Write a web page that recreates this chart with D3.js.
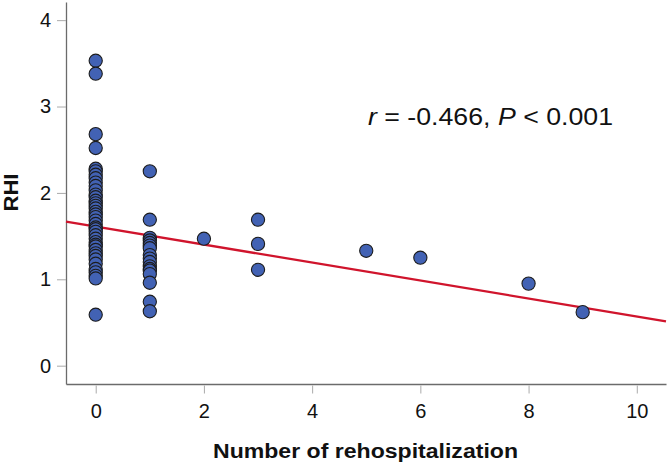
<!DOCTYPE html>
<html>
<head>
<meta charset="utf-8">
<script src="https://cdn.jsdelivr.net/npm/d3@7"></script>
<style>
  html, body { margin: 0; padding: 0; background: #fff; }
  text { font-family: Arial, "Liberation Sans", Helvetica, sans-serif; }
</style>
</head>
<body>
<div id="chart"></div>
<script>
// Number of rehospitalization (x) and RHI (y) for each patient
const rehospX = [
  0,0,0,0,0,0,0,0,0,0,0,0,0,0,0,0,0,0,0,0,
  0,0,0,0,0,0,0,0,0,0,0,0,0,0,0,0,0,0,0,0,
  1,1,1,1,1,1,1,1,1,1,1,1,1,1,1,1,1,
  2,3,3,3,5,6,8,9
];
const rhiY = [
  3.53,3.38,2.68,2.52,2.28,2.25,2.21,2.17,2.12,2.08,2.03,1.98,1.95,1.91,1.88,1.85,1.82,1.78,1.75,1.72,
  1.68,1.64,1.60,1.58,1.55,1.51,1.47,1.43,1.40,1.38,1.34,1.30,1.27,1.23,1.18,1.12,1.08,1.04,1.01,0.59,
  2.25,1.69,1.48,1.45,1.42,1.39,1.36,1.28,1.24,1.20,1.15,1.12,1.10,1.06,0.96,0.74,0.63,
  1.47,1.69,1.41,1.11,1.33,1.25,0.95,0.62
];
const xTicks = [0, 2, 4, 6, 8, 10];
const yTicks = [0, 1, 2, 3, 4];
const fitIntercept = 1.61;
const fitSlope = -0.104;
const annotation = ["r", " = -0.466, ", "P", " < 0.001"];
const xTitle = "Number of rehospitalization";
const yTitle = "RHI";

const W = 668, H = 467;
const margin = { left: 66, right: 2, top: 2, bottom: 83 };

const svg = d3.select("#chart").append("svg")
  .attr("width", W).attr("height", H);

const x = d3.scaleLinear().domain([-0.549, 10.54]).range([margin.left, W - margin.right]);
const y = d3.scaleLinear().domain([-0.212, 4.21]).range([H - margin.bottom, margin.top]);

// X axis
const gx = svg.append("g").attr("transform", `translate(0,${H - margin.bottom})`)
  .call(d3.axisBottom(x).tickValues(xTicks).tickFormat(d3.format("d"))
    .tickSize(8).tickPadding(12).tickSizeOuter(0));
gx.select(".domain").attr("stroke", "#6b6b6b").attr("stroke-width", 1.3);
gx.selectAll(".tick line").attr("stroke", "#aaa").attr("transform", "translate(0,1.5)");
gx.selectAll(".tick text").attr("font-size", 20).attr("fill", "#111")
  .attr("font-family", "Arial, 'Liberation Sans', sans-serif");

// Y axis
const gy = svg.append("g").attr("transform", `translate(${margin.left},0)`)
  .call(d3.axisLeft(y).tickValues(yTicks).tickFormat(d3.format("d"))
    .tickSize(9).tickPadding(6).tickSizeOuter(0));
gy.select(".domain").attr("stroke", "#6b6b6b").attr("stroke-width", 1.3);
gy.selectAll(".tick line").attr("stroke", "#aaa");
gy.selectAll(".tick text").attr("font-size", 20).attr("fill", "#111")
  .attr("font-family", "Arial, 'Liberation Sans', sans-serif");

// Fit line
const xd = x.domain();
svg.append("line")
  .attr("x1", x(xd[0])).attr("y1", y(fitIntercept + fitSlope * xd[0]))
  .attr("x2", x(xd[1])).attr("y2", y(fitIntercept + fitSlope * xd[1]))
  .attr("stroke", "#d0142c").attr("stroke-width", 2.3);

// Points
svg.append("g").selectAll("circle")
  .data(rehospX.map((v, i) => [v, rhiY[i]]))
  .join("circle")
  .attr("cx", d => x(d[0])).attr("cy", d => y(d[1]))
  .attr("r", 6.6)
  .attr("fill", "#4262b4")
  .attr("stroke", "#1c1c1c").attr("stroke-width", 1.1);

// Annotation
const ann = svg.append("text")
  .attr("x", 368).attr("y", 125)
  .attr("font-size", 23).attr("fill", "#111")
  .attr("textLength", 245).attr("lengthAdjust", "spacingAndGlyphs");
annotation.forEach((s, i) => {
  ann.append("tspan").text(s).attr("font-style", i % 2 === 0 ? "italic" : "normal");
});

// Axis titles
svg.append("text")
  .attr("x", 365.5).attr("y", 458)
  .attr("text-anchor", "middle")
  .attr("font-size", 20).attr("font-weight", "bold").attr("fill", "#111")
  .attr("textLength", 305).attr("lengthAdjust", "spacingAndGlyphs")
  .text(xTitle);

svg.append("text")
  .attr("transform", "translate(17.5,192.5) rotate(-90)")
  .attr("text-anchor", "middle")
  .attr("font-size", 21).attr("font-weight", "bold").attr("fill", "#111")
  .attr("textLength", 38).attr("lengthAdjust", "spacingAndGlyphs")
  .text(yTitle);
</script>
</body>
</html>
